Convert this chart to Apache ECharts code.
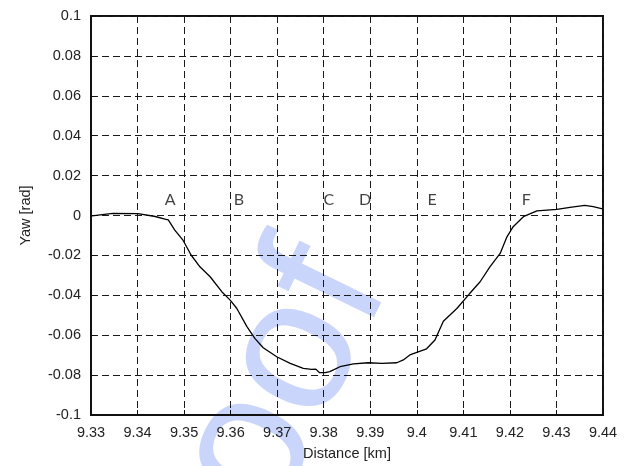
<!DOCTYPE html>
<html>
<head>
<meta charset="utf-8">
<script src="https://cdn.jsdelivr.net/npm/echarts@6/dist/echarts.min.js"></script>
<style>
  html, body { margin: 0; padding: 0; background: #fff; }
  #chart { width: 632px; height: 466px; }
</style>
</head>
<body>
<div id="chart"></div>
<script>
// Yaw angle along the route, distance in km
const distanceKm = [
  9.3302, 9.3347, 9.3401, 9.3438, 9.3459, 9.3466, 9.3480, 9.3498, 9.3515, 9.3534,
  9.3556, 9.3581, 9.3599, 9.3613, 9.3635, 9.3652, 9.3670, 9.3699, 9.3728, 9.3756,
  9.3774, 9.3783, 9.3791, 9.3803, 9.3813, 9.3835, 9.3864, 9.3896, 9.3925, 9.3957,
  9.3971, 9.3985, 9.4021, 9.4039, 9.4057, 9.4086, 9.4114, 9.4136, 9.4157, 9.4179,
  9.4193, 9.4207, 9.4229, 9.4258, 9.4301, 9.4329, 9.4361, 9.4379, 9.4399
];
const yawRad = [
  -0.0002, 0.0011, 0.0009, -0.0005, -0.0018, -0.0022, -0.0073, -0.0125, -0.0198, -0.0257,
  -0.0307, -0.0382, -0.0424, -0.0465, -0.0557, -0.0616, -0.0663, -0.0708, -0.0741, -0.0766,
  -0.0771, -0.0770, -0.0788, -0.0788, -0.0783, -0.0758, -0.0744, -0.0738, -0.0741, -0.0738,
  -0.0724, -0.0699, -0.0668, -0.0624, -0.0530, -0.0466, -0.0390, -0.0332, -0.0257, -0.0190,
  -0.0110, -0.0056, -0.0006, 0.0023, 0.0031, 0.0041, 0.0051, 0.0044, 0.0033
];

// Section markers A–F
const sectionNames = ['A', 'B', 'C', 'D', 'E', 'F'];
const sectionKm = [9.3470, 9.3618, 9.3811, 9.3889, 9.4033, 9.4235];
const sectionYaw = [0.0078, 0.0078, 0.0078, 0.0078, 0.0078, 0.0078];

// Tick labels
const xTickLabels = ['9.33', '9.34', '9.35', '9.36', '9.37', '9.38', '9.39', '9.4', '9.41', '9.42', '9.43', '9.44'];
const xTickValues = [9.33, 9.34, 9.35, 9.36, 9.37, 9.38, 9.39, 9.40, 9.41, 9.42, 9.43, 9.44];
const yTickLabels = ['-0.1', '-0.08', '-0.06', '-0.04', '-0.02', '0', '0.02', '0.04', '0.06', '0.08', '0.1'];
const yTickValues = [-0.1, -0.08, -0.06, -0.04, -0.02, 0, 0.02, 0.04, 0.06, 0.08, 0.1];

function nearestLabel(values, labels, v) {
  let best = 0;
  for (let i = 1; i < values.length; i++) {
    if (Math.abs(values[i] - v) < Math.abs(values[best] - v)) best = i;
  }
  return labels[best];
}

const FONT = '"Liberation Sans", Arial, Helvetica, sans-serif';
const gridDash = { color: '#1a1a1a', width: 1, type: [7, 4] };

const chart = echarts.init(document.getElementById('chart'), null, { renderer: 'canvas' });

chart.setOption({
  backgroundColor: '#ffffff',
  animation: false,
  graphic: [{
    type: 'text',
    z: -10,
    x: 243,
    y: 466,
    rotation: 64 * Math.PI / 180,
    style: {
      text: 'Proof',
      font: '190px ' + FONT,
      fill: '#c9d5fa',
      textAlign: 'center',
      textVerticalAlign: 'middle'
    }
  }],
  grid: {
    left: 91, top: 16, width: 512, height: 399,
    show: true, borderColor: '#111', borderWidth: 2, backgroundColor: 'transparent'
  },
  xAxis: {
    type: 'value',
    min: 9.33, max: 9.44, interval: 0.01,
    name: 'Distance [km]',
    nameLocation: 'middle',
    nameGap: 31,
    nameTextStyle: { fontFamily: FONT, fontSize: 14.5, color: '#222' },
    axisLine: { show: true, onZero: false, lineStyle: { color: '#111', width: 2 } },
    axisTick: { show: true, inside: true, length: 5, lineStyle: { color: '#111' } },
    axisLabel: {
      margin: 10, fontFamily: FONT, fontSize: 14.5, color: '#222',
      formatter: v => nearestLabel(xTickValues, xTickLabels, v)
    },
    splitLine: { show: true, lineStyle: gridDash }
  },
  yAxis: {
    type: 'value',
    min: -0.1, max: 0.1, interval: 0.02,
    name: 'Yaw [rad]',
    nameLocation: 'middle',
    nameGap: 58,
    nameTextStyle: { fontFamily: FONT, fontSize: 14.5, color: '#222' },
    axisLine: { show: true, lineStyle: { color: '#111', width: 2 } },
    axisTick: { show: true, inside: true, length: 5, lineStyle: { color: '#111' } },
    axisLabel: {
      margin: 10, fontFamily: FONT, fontSize: 14.5, color: '#222',
      formatter: v => nearestLabel(yTickValues, yTickLabels, v)
    },
    splitLine: { show: true, lineStyle: gridDash }
  },
  series: [
    {
      type: 'line',
      data: distanceKm.map((d, i) => [d, yawRad[i]]),
      showSymbol: false,
      symbol: 'none',
      lineStyle: { color: '#000', width: 1.3 },
      z: 5
    },
    {
      type: 'scatter',
      data: sectionNames.map((n, i) => ({ name: n, value: [sectionKm[i], sectionYaw[i]] })),
      symbolSize: 0,
      label: {
        show: true,
        position: 'inside',
        formatter: p => p.name,
        fontFamily: 'Lato, "Open Sans", sans-serif',
        fontSize: 16,
        color: '#111'
      },
      z: 6
    }
  ]
});
</script>
</body>
</html>
